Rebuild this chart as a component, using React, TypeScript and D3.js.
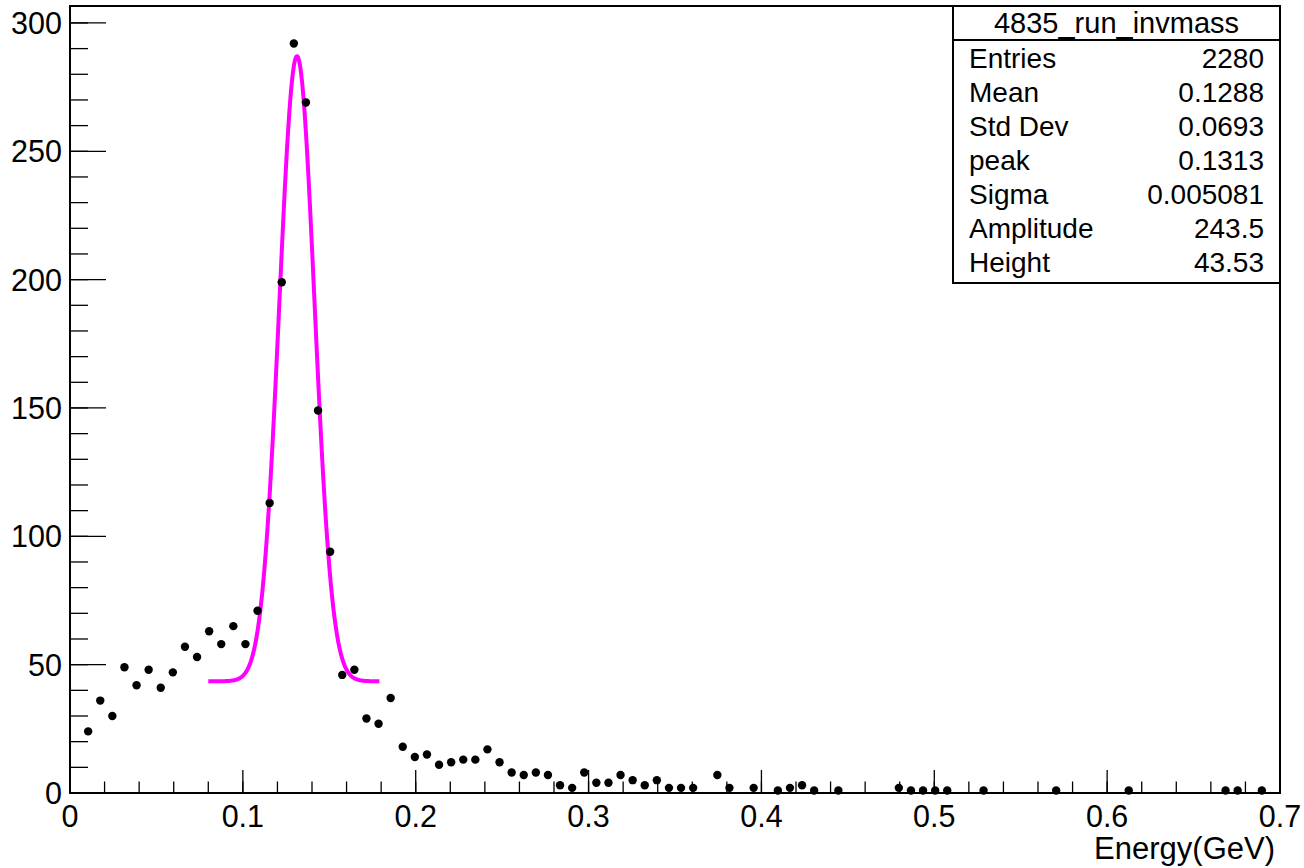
import React from "react";
import * as d3 from "d3";

const X_MIN = 0;
const X_MAX = 0.7;
const N_BINS = 100;
const Y_MAX = 306.6;

// counts per bin (bin width 0.007 GeV)
const counts: number[] = [
  0, 24, 36, 30, 49, 42, 48, 41, 47, 57,
  53, 63, 58, 65, 58, 71, 113, 199, 292, 269,
  149, 94, 46, 48, 29, 27, 37, 18, 14, 15,
  11, 12, 13, 13, 17, 12, 8, 7, 8, 7,
  3, 2, 8, 4, 4, 7, 5, 3, 5, 2,
  2, 2, 0, 7, 2, 0, 2, 0, 1, 2,
  3, 1, 0, 1, 0, 0, 0, 0, 2, 1,
  1, 1, 1, 0, 0, 1, 0, 0, 0, 0,
  0, 1, 0, 0, 0, 0, 0, 1, 0, 0,
  0, 0, 0, 0, 0, 1, 1, 0, 1, 0,
];

// fit parameters
const FIT_PEAK = 0.1313;
const FIT_SIGMA = 0.005081;
const FIT_AMP = 243.5;
const FIT_HEIGHT = 43.53;
const FIT_RANGE: [number, number] = [0.08, 0.179];
// the drawn curve's width corresponds to 2*Sigma
const FIT_WIDTH_FACTOR = 2;

const xTickLabels = ["0", "0.1", "0.2", "0.3", "0.4", "0.5", "0.6", "0.7"];
const xTickValues = [0, 0.1, 0.2, 0.3, 0.4, 0.5, 0.6, 0.7];
const yTickValues = [0, 50, 100, 150, 200, 250, 300];

const statTitle = "4835_run_invmass";
const statLabels = ["Entries", "Mean", "Std Dev", "peak", "Sigma", "Amplitude", "Height"];
const statValues = ["2280", "0.1288", "0.0693", "0.1313", "0.005081", "243.5", "43.53"];

const W = 1304;
const H = 868;
const L = 70, R = 1280, T = 6, B = 793;
const FONT = "'Liberation Sans', Arial, Helvetica, sans-serif";

export default function App() {
  const x = d3.scaleLinear().domain([X_MIN, X_MAX]).range([L, R]);
  const y = d3.scaleLinear().domain([0, Y_MAX]).range([B, T]);
  const bw = (X_MAX - X_MIN) / N_BINS;

  const pts = counts
    .map((c, i) => ({ xc: X_MIN + bw * (i + 0.5), c }))
    .filter((d) => d.c > 0);

  const s = FIT_SIGMA * FIT_WIDTH_FACTOR;
  const gauss = (v: number) =>
    FIT_HEIGHT + FIT_AMP * Math.exp(-0.5 * Math.pow((v - FIT_PEAK) / s, 2));
  const nS = 600;
  const fitPts = d3.range(nS + 1).map((k) => {
    const v = FIT_RANGE[0] + ((FIT_RANGE[1] - FIT_RANGE[0]) * k) / nS;
    return [v, gauss(v)] as [number, number];
  });
  const line = d3
    .line<[number, number]>()
    .x((d) => x(d[0]))
    .y((d) => y(d[1]))
    .curve(d3.curveLinear);

  const yMinor = d3.range(0, Y_MAX, 10);
  const xMinor = d3.range(0, 35 + 1).map((k) => k * 0.02);

  const xMajorLen = 23;
  const xMinorLen = 11.5;
  const yMajorLen = 36;
  const yMinorLen = 18;

  const boxL = 953, boxR = 1280, boxT = 6, boxB = 283, boxSep = 40;
  const rowY0 = 68, rowDy = 34;

  return (
    <svg
      width={W}
      height={H}
      style={{ position: "absolute", left: 0, top: 0, background: "#fff" }}
      fontFamily={FONT}
    >
      <rect x={0} y={0} width={W} height={H} fill="#fff" />
      {/* ticks */}
      <g stroke="#000" strokeWidth={1.3}>
        {yMinor.map((v) => (
          <line key={"ym" + v} x1={L} x2={L + yMinorLen} y1={y(v)} y2={y(v)} />
        ))}
        {yTickValues.map((v) => (
          <line key={"yM" + v} x1={L} x2={L + yMajorLen} y1={y(v)} y2={y(v)} />
        ))}
        {xMinor.map((v) => (
          <line key={"xm" + v} x1={x(v)} x2={x(v)} y1={B} y2={B - xMinorLen} />
        ))}
        {xTickValues.map((v) => (
          <line key={"xM" + v} x1={x(v)} x2={x(v)} y1={B} y2={B - xMajorLen} />
        ))}
      </g>
      {/* frame */}
      <rect x={L} y={T} width={R - L} height={B - T} fill="none" stroke="#000" strokeWidth={2} />
      {/* tick labels */}
      <g fontSize={30.5} fill="#000">
        {yTickValues.map((v) => (
          <text key={"yl" + v} x={62} y={y(v) + 11} textAnchor="end">
            {v}
          </text>
        ))}
        {xTickValues.map((v, i) => (
          <text key={"xl" + v} x={x(v)} y={827} textAnchor="middle">
            {xTickLabels[i]}
          </text>
        ))}
        <text x={1275} y={859} textAnchor="end" fontSize={31}>
          Energy(GeV)
        </text>
      </g>
      {/* fit */}
      <path d={line(fitPts) || ""} fill="none" stroke="#ff00ff" strokeWidth={4} />
      {/* points */}
      <g fill="#000">
        {pts.map((d, i) => (
          <circle key={"p" + i} cx={x(d.xc)} cy={y(d.c)} r={4.2} />
        ))}
      </g>
      {/* stats box */}
      <g>
        <rect x={boxL} y={boxT} width={boxR - boxL} height={boxB - boxT} fill="#fff" stroke="#000" strokeWidth={2} />
        <line x1={boxL} x2={boxR} y1={boxSep} y2={boxSep} stroke="#000" strokeWidth={2} />
        <text x={(boxL + boxR) / 2} y={33} textAnchor="middle" fontSize={29}>
          {statTitle}
        </text>
        {statLabels.map((lab, i) => (
          <text key={"sl" + i} x={969} y={rowY0 + i * rowDy} fontSize={28}>
            {lab}
          </text>
        ))}
        {statValues.map((val, i) => (
          <text key={"sv" + i} x={1264} y={rowY0 + i * rowDy} fontSize={28} textAnchor="end">
            {val}
          </text>
        ))}
      </g>
    </svg>
  );
}
